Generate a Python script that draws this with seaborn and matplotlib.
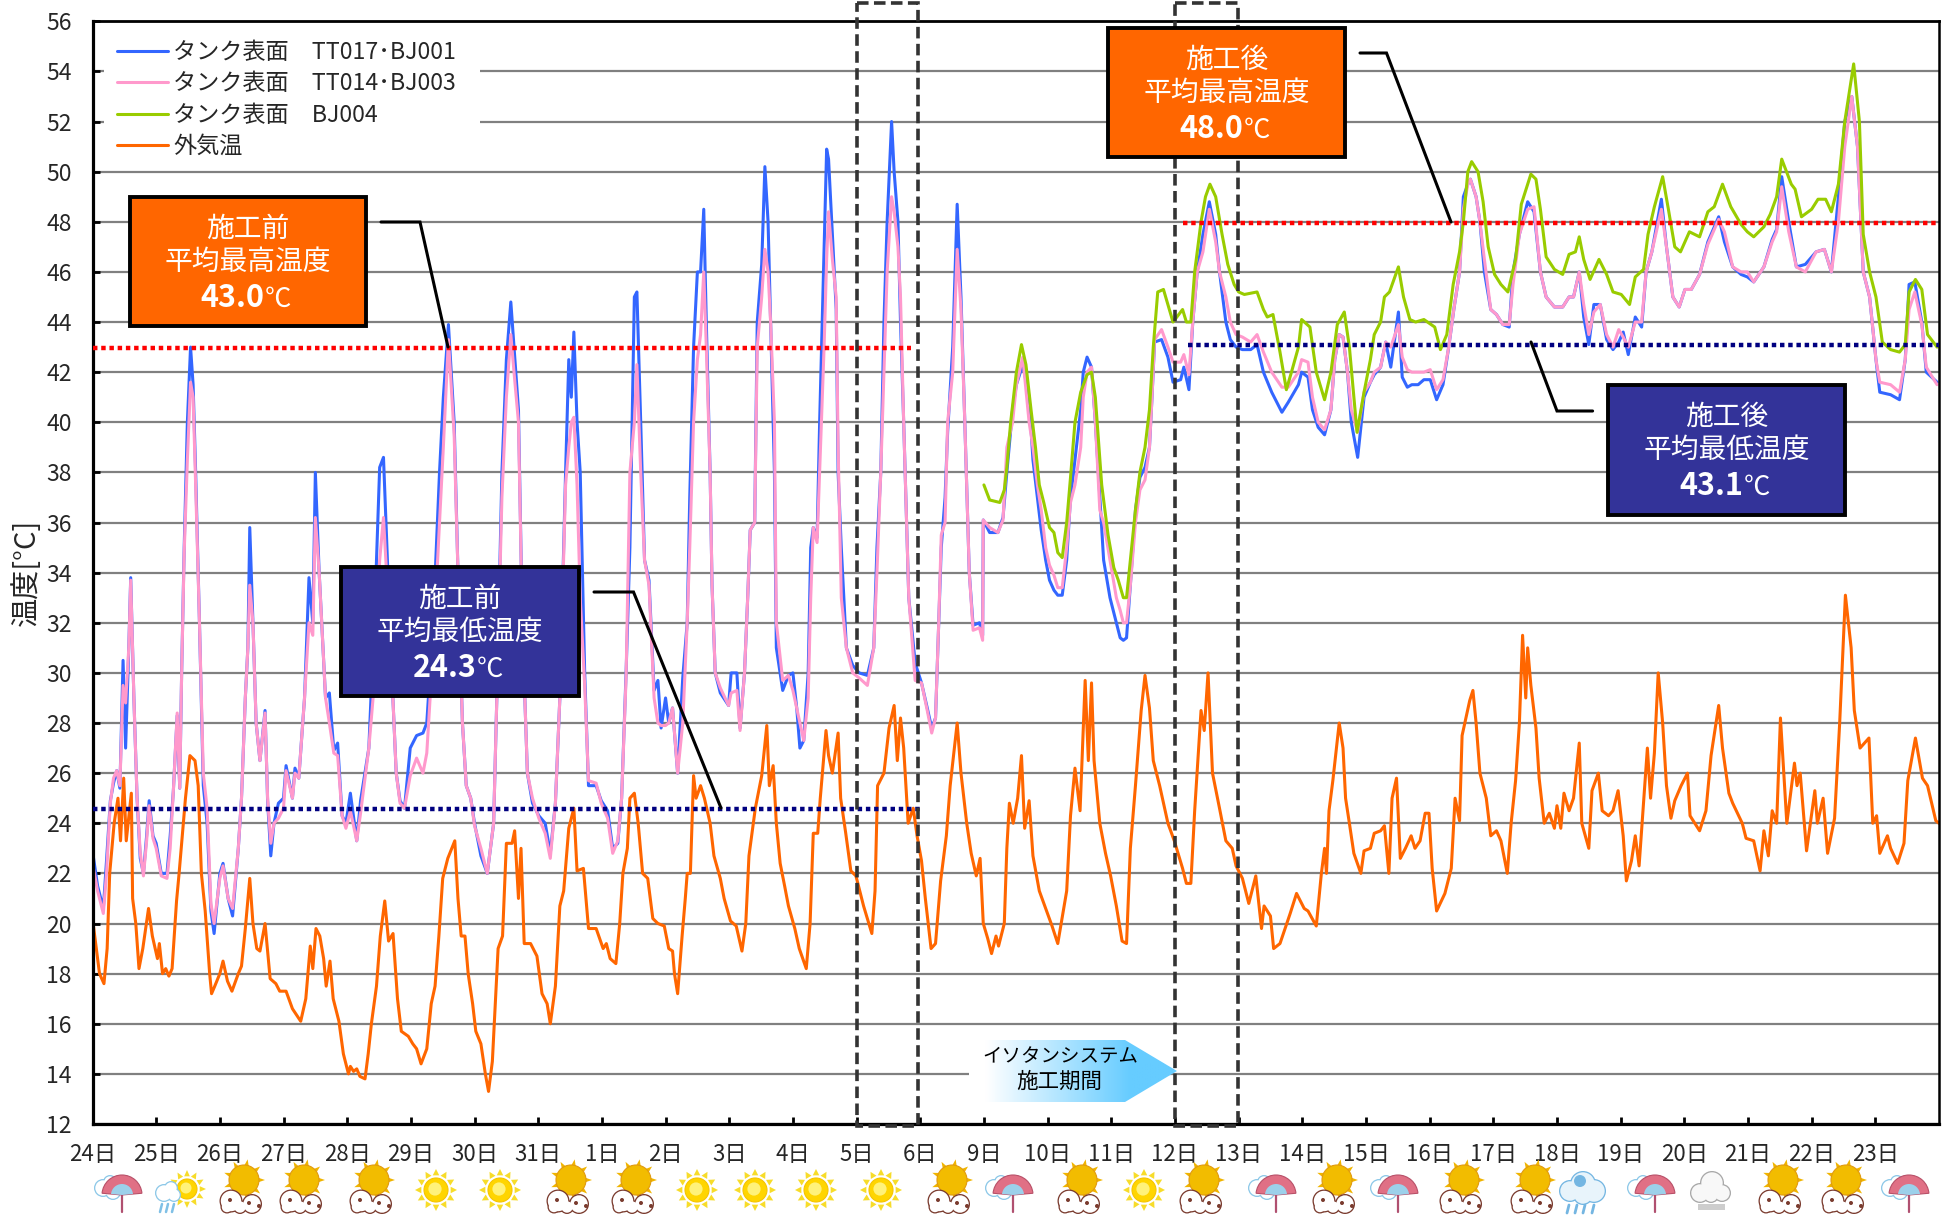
import numpy as np
import pandas as pd
import seaborn as sns
import matplotlib
matplotlib.use("Agg")
import matplotlib.pyplot as plt
from matplotlib.colors import LinearSegmentedColormap
from matplotlib.patches import Circle, Polygon, Rectangle, Wedge

# --- data (x = days since the 24th) ---
day_names = list(range(24, 32)) + list(range(1, 7)) + list(range(9, 24))
y_ticks = list(range(12, 58, 2))

tank_t = [0, .08, .17, .22, .28, .33, .38, .43, .48, .52,
          .57, .60, .65, .70, .75, .80, .85, .89, .95, 1.0,
          1.08, 1.17, 1.22, 1.27, 1.33, 1.37, 1.40, 1.44, 1.49, 1.54,
          1.58, 1.62, 1.68, 1.74, 1.80, 1.86, 1.91, 2.0, 2.05, 2.13,
          2.2, 2.29, 2.34, 2.4, 2.44, 2.47, 2.52, 2.57, 2.63, 2.71,
          2.75, 2.80, 2.85, 2.92, 3.0, 3.04, 3.14, 3.18, 3.24, 3.33,
          3.40, 3.46, 3.50, 3.56, 3.66, 3.72, 3.79, 3.85, 3.92, 3.98,
          4.05, 4.15, 4.21, 4.34, 4.44, 4.51, 4.57, 4.64, 4.70, 4.77,
          4.83, 4.90, 4.99, 5.09, 5.19, 5.25, 5.35, 5.45, 5.51, 5.59,
          5.68, 5.74, 5.81, 5.87, 5.94, 6.0, 6.10, 6.20, 6.30, 6.36,
          6.43, 6.50, 6.57, 6.62, 6.69, 6.75, 6.83, 6.91, 7.01, 7.11,
          7.19, 7.27, 7.34, 7.43, 7.48, 7.52, 7.56, 7.61, 7.66, 7.73,
          7.79, 7.91, 7.99, 8.09, 8.17, 8.25, 8.31, 8.38, 8.44, 8.51,
          8.55, 8.61, 8.67, 8.74, 8.82, 8.88, 8.93, 9.0, 9.05, 9.11,
          9.19, 9.27, 9.34, 9.38, 9.44, 9.50, 9.55, 9.60, 9.64, 9.70,
          9.73, 9.78, 9.86, 9.99, 10.03, 10.12, 10.17, 10.24, 10.29, 10.33,
          10.40, 10.44, 10.51, 10.56, 10.61, 10.65, 10.71, 10.74, 10.84, 10.93,
          11.0, 11.06, 11.11, 11.17, 11.24, 11.28, 11.32, 11.38, 11.42, 11.49,
          11.53, 11.56, 11.62, 11.68, 11.71, 11.76, 11.84, 11.94, 12.04, 12.17,
          12.27, 12.32, 12.38, 12.43, 12.48, 12.55, 12.59, 12.65, 12.69, 12.74,
          12.82, 12.92, 13.02, 13.11, 13.18, 13.24, 13.29, 13.33, 13.39, 13.43,
          13.51, 13.58, 13.64, 13.70, 13.77, 13.83, 13.93, 13.98, 13.99, 14.09,
          14.22, 14.30, 14.36, 14.45, 14.51, 14.61, 14.71, 14.77, 14.84, 14.90,
          14.97, 15.03, 15.10, 15.16, 15.23, 15.30, 15.36, 15.43, 15.52, 15.56,
          15.62, 15.69, 15.75, 15.82, 15.88, 15.98, 16.08, 16.14, 16.19, 16.24,
          16.30, 16.38, 16.45, 16.53, 16.60, 16.64, 16.68, 16.79, 16.89, 16.97,
          17.09, 17.14, 17.22, 17.28, 17.35, 17.44, 17.54, 17.64, 17.70, 17.80,
          17.87, 17.96, 18.06, 18.19, 18.29, 18.39, 18.52, 18.68, 18.78, 18.94,
          18.99, 19.09, 19.16, 19.25, 19.35, 19.45, 19.51, 19.58, 19.64, 19.71,
          19.77, 19.87, 19.97, 20.07, 20.13, 20.23, 20.31, 20.39, 20.51, 20.57,
          20.65, 20.72, 20.82, 20.91, 21.01, 21.11, 21.21, 21.30, 21.38, 21.47,
          21.53, 21.60, 21.64, 21.73, 21.79, 21.86, 21.96, 22.05, 22.15, 22.25,
          22.31, 22.41, 22.54, 22.64, 22.74, 22.83, 22.96, 23.09, 23.19, 23.26,
          23.35, 23.42, 23.50, 23.58, 23.68, 23.78, 23.88, 23.97, 24.04, 24.12,
          24.23, 24.33, 24.40, 24.49, 24.64, 24.72, 24.82, 24.92, 25.01, 25.11,
          25.24, 25.37, 25.54, 25.63, 25.76, 25.89, 25.99, 26.09, 26.25, 26.38,
          26.45, 26.53, 26.64, 26.76, 26.90, 27.07, 27.20, 27.31, 27.42, 27.52,
          27.63, 27.72, 27.81, 27.91, 28.01, 28.07, 28.24, 28.38, 28.47, 28.53,
          28.62, 28.73, 28.80, 28.97]
tank_a = [22.9, 21.5, 20.6, 22.5, 24.9, 25.6, 26.1, 25.4, 30.5, 27.0,
          31, 33.8, 29, 25, 22.6, 22, 23.5, 24.9, 23.5, 23.2,
          22, 22, 23.5, 25.3, 28.3, 25.4, 30, 35, 40, 43,
          41.5, 38, 32, 25.5, 24, 20.5, 19.6, 22, 22.4, 21,
          20.3, 23, 25, 29, 31, 35.8, 32, 28, 26.5, 28.5,
          24.9, 22.7, 24, 24.8, 25, 26.3, 25, 26.2, 25.8, 29,
          33.8, 32, 38, 34, 29, 29.2, 26.9, 27.2, 24.3, 24,
          25.2, 23.3, 24.9, 27, 33, 38.2, 38.6, 34, 30, 26,
          24.9, 24.6, 27, 27.5, 27.6, 28, 32, 38, 41, 43.9,
          40, 34, 28, 25.5, 25, 24, 22.7, 22, 24, 30,
          38, 42.5, 44.8, 43, 40.5, 32, 26, 24.8, 24.3, 24,
          22.8, 24.8, 29, 38, 42.5, 41, 43.6, 40, 38, 30,
          25.5, 25.5, 24.9, 24.5, 23, 23.2, 25, 30, 35, 45,
          45.2, 40, 34.5, 33.7, 29.3, 29.7, 27.8, 29, 28, 28.6,
          26, 29.8, 32, 37, 43, 46, 46, 48.5, 44, 38,
          33.5, 30, 29.2, 28.7, 30, 30, 27.8, 30, 33, 35.7,
          36, 44, 46.3, 50.2, 48, 44, 38, 31, 29.3, 29.9,
          30, 28.6, 27, 27.3, 30, 35, 35.8, 35.4, 40, 47,
          50.9, 50.5, 47.5, 44.5, 38, 35, 31, 30.3, 30, 29.9,
          31, 35, 38, 44, 48, 52, 50, 48, 44, 40,
          33, 30.4, 29.6, 28.6, 27.8, 28.2, 32, 35, 37, 39.6,
          43, 48.7, 45, 40, 34, 31.9, 32, 31.5, 36.1, 35.6,
          35.6, 36.2, 38, 40.5, 41.5, 42.3, 41, 38.5, 37, 35.7,
          34.5, 33.7, 33.3, 33.1, 33.1, 34.5, 37, 38.5, 40.5, 42,
          42.6, 42.2, 40, 37, 34.5, 33, 32, 31.4, 31.3, 31.4,
          33.5, 36.5, 37.8, 38.2, 39, 41, 43.2, 43.3, 42.6, 41.6,
          41.7, 42.2, 41.3, 44, 46, 47.5, 48.8, 47.5, 46, 44,
          43.3, 43, 42.9, 42.9, 43.1, 42, 41.2, 40.4, 40.8, 41.5,
          42, 41.8, 40.5, 39.8, 39.5, 40.5, 42.5, 43.5, 43.4, 42,
          40, 38.6, 41, 41.6, 41.9, 42.2, 43.2, 42.2, 44.4, 41.8,
          41.4, 41.5, 41.5, 41.7, 41.7, 40.9, 41.5, 43, 44.5, 46,
          49, 49.5, 49.7, 49, 48, 46, 44.5, 44.3, 43.9, 43.8,
          46, 47.5, 48.8, 48.4, 46, 45, 44.6, 44.6, 45, 45,
          46, 44.2, 43.1, 44.7, 44.7, 43.3, 42.9, 43.2, 43.6, 42.7,
          44.2, 43.8, 46, 46.8, 48.9, 47, 45, 44.6, 45.3, 45.3,
          45.9, 47.2, 48.2, 47.2, 46.2, 45.9, 45.8, 45.6, 46.2, 47.3,
          47.7, 49.8, 48, 46.2, 46.3, 46.8, 46.9, 46, 49, 52,
          53, 51, 46, 45, 42.5, 41.2, 41.1, 40.9, 42.5, 45.5,
          45.6, 44, 42, 41.6]
tank_b = [22.4, 21.3, 20.4, 22, 24.8, 25.8, 26.1, 25.5, 29.5, 28.8,
          31, 33.7, 29, 25, 22.8, 21.9, 23.3, 24.7, 23.4, 23.0,
          21.9, 21.8, 23, 25.3, 28.4, 25.4, 30, 34.8, 38.5, 41.6,
          41, 37.5, 32, 26, 24.6, 20.8, 20, 21.8, 22.3, 21,
          20.6, 23, 25, 29, 31, 33.5, 32, 28, 26.5, 28.4,
          25, 23.2, 24, 24.2, 24.6, 26.1, 25, 26, 25.8, 29,
          32, 31.5, 36.2, 34, 29, 28, 26.8, 26.7, 24.3, 23.8,
          24.5, 23.3, 24.4, 27, 30, 34.5, 36.2, 33, 30, 26,
          24.8, 24.6, 25.9, 26.6, 26, 26.8, 31, 36, 39, 43.3,
          39.5, 34, 28, 25.5, 25, 23.9, 23, 22, 24, 30,
          37, 41, 43.5, 42, 40, 32, 26, 25, 24.2, 23.6,
          22.6, 24.8, 29, 37.5, 39, 40, 40.2, 37.5, 33, 29.5,
          25.7, 25.6, 24.8, 24.2, 22.8, 23.3, 25, 29.8, 38, 40,
          42.3, 38, 34.5, 33.5, 29, 28, 27.9, 27.9, 28, 28.6,
          26, 28, 32, 35, 40, 42.5, 43.5, 46, 43, 38,
          33.5, 30, 29.4, 28.7, 29.2, 29.3, 27.7, 30, 33, 35.7,
          36, 43, 45, 46.9, 46, 44, 40, 32, 29.7, 29.9,
          29.3, 28.6, 28, 27.3, 29, 33, 35.8, 35.2, 38, 43,
          46.5, 48.4, 46.5, 45, 39, 33, 31, 30, 29.8, 29.5,
          31, 34, 38, 42, 46, 49, 48.4, 47, 45, 40,
          33, 29.7, 29.6, 28.5, 27.6, 28.2, 32, 35.5, 36, 40,
          42, 46.9, 44.5, 40, 34, 31.7, 31.8, 31.3, 36.1, 35.8,
          35.6, 36.1, 39, 40, 41.5, 42.6, 40, 39, 37.5, 36.5,
          35, 34.3, 33.9, 33.4, 33.4, 35, 36.8, 37.5, 39, 41,
          42, 42.2, 40, 36.5, 36, 34.5, 33, 32.5, 32, 32,
          33.5, 36, 37.3, 37.7, 39, 41, 43.3, 43.7, 43, 42.4,
          42.4, 42.7, 41.9, 44, 46, 46.8, 48.5, 47.2, 46, 45,
          44, 43.5, 43.4, 43.2, 43.5, 42.8, 42, 41.4, 41.4, 42,
          42.5, 42.4, 41, 40, 39.7, 40.5, 42.5, 43.5, 43.4, 42,
          40.5, 39.6, 41.2, 41.6, 42, 42.2, 43.2, 43, 43.9, 42.6,
          42.1, 42, 42, 42, 42.1, 41.3, 41.7, 43, 44.5, 46,
          48.5, 49.5, 49.7, 49, 48, 46.5, 44.5, 44.3, 43.9, 43.9,
          45.5, 47.5, 48.5, 48.6, 46, 45, 44.6, 44.6, 45, 45,
          46, 44.7, 43.5, 44.4, 44.7, 43.5, 43, 43.7, 43.4, 43,
          44, 44, 46, 46.8, 48.5, 47, 45, 44.6, 45.3, 45.3,
          45.9, 47.1, 48.1, 47.6, 46.2, 46, 46, 45.6, 46.2, 47.2,
          47.6, 49.4, 47.6, 46.2, 46, 46.8, 46.9, 46, 48, 51,
          53, 51, 46, 45, 42.5, 41.6, 41.5, 41.2, 42.5, 44.5,
          45.2, 43.9, 42.2, 41.5]

green_t = [14.0, 14.09, 14.25, 14.32, 14.36, 14.42, 14.51, 14.59, 14.66, 14.74,
           14.81, 14.87, 14.94, 15.03, 15.10, 15.16, 15.23, 15.30, 15.36, 15.43,
           15.52, 15.62, 15.69, 15.75, 15.85, 15.95, 16.04, 16.11, 16.19, 16.24,
           16.30, 16.38, 16.45, 16.53, 16.60, 16.66, 16.73, 16.82, 16.89, 16.97,
           17.12, 17.18, 17.25, 17.31, 17.41, 17.48, 17.55, 17.64, 17.74, 17.83,
           17.93, 18.0, 18.09, 18.29, 18.39, 18.45, 18.54, 18.65, 18.75, 18.83,
           18.94, 18.99, 19.12, 19.22, 19.35, 19.45, 19.55, 19.66, 19.74, 19.81,
           19.86, 19.97, 20.07, 20.13, 20.23, 20.29, 20.37, 20.51, 20.59, 20.69,
           20.78, 20.91, 21.08, 21.17, 21.27, 21.37, 21.47, 21.53, 21.60, 21.66,
           21.76, 21.84, 21.92, 22.02, 22.12, 22.23, 22.35, 22.44, 22.59, 22.67,
           22.74, 22.83, 22.96, 23.09, 23.19, 23.29, 23.35, 23.42, 23.52, 23.66,
           23.78, 23.88, 24.01, 24.14, 24.23, 24.36, 24.43, 24.53, 24.66, 24.75,
           24.85, 24.94, 25.08, 25.24, 25.37, 25.47, 25.60, 25.73, 25.89, 25.99,
           26.09, 26.25, 26.35, 26.45, 26.53, 26.68, 26.74, 26.84, 27.00, 27.10,
           27.22, 27.31, 27.42, 27.52, 27.66, 27.75, 27.81, 27.91, 28.01, 28.11,
           28.24, 28.38, 28.47, 28.53, 28.63, 28.73, 28.82, 28.97]
green_v = [37.5, 36.9, 36.8, 37.3, 38.2, 40, 42, 43.1, 42.3, 40.5,
           39, 37.5, 36.8, 35.8, 35.6, 34.8, 34.6, 36, 37.8, 40,
           41.2, 41.9, 42, 41, 37.5, 35.5, 34.2, 33.7, 33, 33,
           34.5, 36.5, 38, 39, 40.5, 43, 45.2, 45.3, 44.7, 44,
           44.5, 44, 44, 46, 48, 49, 49.5, 49, 47.5, 46.3,
           45.5, 45.2, 45.1, 45.2, 44.5, 44.2, 44.3, 42.8, 41.3, 42,
           43, 44.1, 43.8, 42, 40.9, 42, 43.9, 44.4, 43, 41,
           39.6, 41.2, 42.5, 43.5, 44, 45, 45.2, 46.2, 45, 44.1,
           44, 44.1, 43.8, 42.9, 43.5, 45.5, 46.8, 48, 50, 50.4,
           50, 48.8, 47, 45.9, 45.5, 45.2, 46.5, 48.7, 49.9, 49.7,
           48.5, 46.6, 46.1, 45.9, 46.7, 46.8, 47.4, 46.5, 45.7, 46.5,
           45.9, 45.2, 45.1, 44.7, 45.8, 46.1, 47.5, 48.6, 49.8, 48.5,
           47, 46.8, 47.6, 47.4, 48.4, 48.6, 49.5, 48.6, 47.9, 47.6,
           47.4, 47.8, 48.3, 49, 50.5, 49.5, 49.3, 48.2, 48.5, 48.9,
           48.9, 48.4, 49.5, 52, 54.3, 52, 47.5, 46, 45, 43.2,
           42.9, 42.8, 43.1, 45.2, 45.7, 45.3, 43.5, 43]

air_t = [0, .06, .11, .18, .23, .27, .34, .40, .44, .49,
         .53, .61, .63, .68, .73, .79, .88, .94, 1.02, 1.05,
         1.10, 1.15, 1.20, 1.25, 1.32, 1.36, 1.41, 1.46, 1.53, 1.61,
         1.66, 1.71, 1.77, 1.84, 1.87, 1.92, 2.0, 2.05, 2.12, 2.19,
         2.29, 2.34, 2.40, 2.47, 2.52, 2.58, 2.63, 2.71, 2.79, 2.88,
         2.94, 3.04, 3.14, 3.27, 3.35, 3.42, 3.46, 3.51, 3.57, 3.63,
         3.67, 3.73, 3.78, 3.87, 3.94, 4.02, 4.05, 4.10, 4.15, 4.20,
         4.28, 4.33, 4.38, 4.46, 4.52, 4.59, 4.65, 4.72, 4.79, 4.85,
         4.96, 5.03, 5.09, 5.16, 5.25, 5.32, 5.38, 5.44, 5.50, 5.58,
         5.69, 5.74, 5.79, 5.85, 5.90, 5.97, 6.02, 6.10, 6.17, 6.22,
         6.28, 6.33, 6.37, 6.44, 6.50, 6.59, 6.63, 6.69, 6.73, 6.78,
         6.88, 6.98, 7.06, 7.14, 7.19, 7.27, 7.34, 7.40, 7.48, 7.56,
         7.61, 7.71, 7.79, 7.91, 8.02, 8.07, 8.13, 8.22, 8.28, 8.33,
         8.40, 8.44, 8.51, 8.57, 8.64, 8.72, 8.80, 8.88, 8.98, 9.05,
         9.11, 9.14, 9.19, 9.26, 9.31, 9.34, 9.39, 9.44, 9.48, 9.55,
         9.61, 9.70, 9.76, 9.86, 9.92, 10.02, 10.11, 10.20, 10.26, 10.31,
         10.41, 10.51, 10.59, 10.63, 10.69, 10.74, 10.80, 10.87, 10.93, 11.03,
         11.10, 11.21, 11.27, 11.32, 11.39, 11.43, 11.52, 11.56, 11.62, 11.71,
         11.75, 11.83, 11.91, 11.99, 12.11, 12.24, 12.29, 12.33, 12.43, 12.51,
         12.59, 12.64, 12.69, 12.74, 12.81, 12.89, 12.95, 13.02, 13.08, 13.17,
         13.24, 13.32, 13.41, 13.47, 13.58, 13.64, 13.73, 13.80, 13.88, 13.94,
         13.99, 14.06, 14.12, 14.19, 14.23, 14.32, 14.36, 14.40, 14.46, 14.53,
         14.59, 14.64, 14.71, 14.77, 14.87, 14.97, 15.07, 15.16, 15.30, 15.36,
         15.43, 15.51, 15.59, 15.64, 15.69, 15.73, 15.82, 15.91, 15.99, 16.08,
         16.17, 16.24, 16.30, 16.38, 16.47, 16.53, 16.60, 16.66, 16.76, 16.89,
         16.99, 17.12, 17.18, 17.25, 17.31, 17.41, 17.46, 17.52, 17.59, 17.70,
         17.80, 17.90, 17.96, 18.06, 18.16, 18.27, 18.36, 18.40, 18.50, 18.55,
         18.65, 18.81, 18.91, 19.03, 19.09, 19.22, 19.30, 19.35, 19.38, 19.42,
         19.48, 19.58, 19.64, 19.68, 19.74, 19.81, 19.92, 19.97, 20.07, 20.13,
         20.23, 20.29, 20.36, 20.41, 20.48, 20.54, 20.62, 20.71, 20.77, 20.85,
         20.93, 20.99, 21.04, 21.11, 21.24, 21.34, 21.40, 21.47, 21.51, 21.63,
         21.68, 21.73, 21.79, 21.89, 21.96, 22.05, 22.12, 22.22, 22.28, 22.35,
         22.41, 22.46, 22.51, 22.54, 22.59, 22.67, 22.72, 22.80, 22.88, 22.96,
         23.0, 23.06, 23.11, 23.19, 23.26, 23.35, 23.39, 23.50, 23.55, 23.65,
         23.71, 23.81, 23.88, 23.96, 24.04, 24.09, 24.17, 24.23, 24.29, 24.36,
         24.42, 24.47, 24.53, 24.59, 24.66, 24.72, 24.79, 24.85, 24.95, 25.05,
         25.09, 25.24, 25.34, 25.42, 25.54, 25.60, 25.70, 25.76, 25.91, 25.97,
         26.09, 26.19, 26.25, 26.32, 26.38, 26.45, 26.51, 26.61, 26.73, 26.77,
         26.82, 26.92, 27.05, 27.09, 27.18, 27.25, 27.36, 27.44, 27.53, 27.62,
         27.67, 27.76, 27.90, 27.96, 28.02, 28.07, 28.19, 28.24, 28.35, 28.45,
         28.51, 28.63, 28.74, 28.82, 28.95, 29.0]
air_v = [20.2, 19, 18, 17.6, 19, 22, 24, 25, 23.3, 25.8,
         23.3, 25.2, 21, 20, 18.2, 19, 20.6, 19.5, 18.6, 19.2,
         18, 18.2, 17.9, 18.2, 20.9, 22, 23.5, 25, 26.7, 26.5,
         25.5, 22, 20.5, 18, 17.2, 17.5, 18, 18.5, 17.7, 17.3,
         18, 18.3, 19.8, 21.8, 20, 19, 18.9, 20, 17.8, 17.6,
         17.3, 17.3, 16.6, 16.1, 17, 19.1, 18.2, 19.8, 19.5, 18.6,
         17.5, 18.5, 17, 16.1, 14.8, 14, 14.3, 14.1, 14.2, 13.9,
         13.8, 14.8, 16, 17.5, 19.5, 20.9, 19.3, 19.6, 17, 15.7,
         15.5, 15.2, 15, 14.4, 15, 16.8, 17.5, 19.5, 21.8, 22.6,
         23.3, 21, 19.5, 19.5, 18, 16.8, 15.7, 15.2, 14, 13.3,
         14.5, 17, 19, 19.5, 23.2, 23.2, 23.7, 21, 23, 19.2,
         19.2, 18.7, 17.2, 16.8, 16, 17.5, 20.7, 21.3, 23.8, 24.6,
         22.1, 22.2, 19.8, 19.8, 19, 19.2, 18.6, 18.4, 20, 22,
         23, 25, 25.2, 24, 22, 21.8, 20.2, 20, 19.9, 19,
         18.9, 18, 17.2, 19.5, 21, 22, 22, 25.9, 25, 25.5,
         25, 24, 22.7, 21.8, 21, 20.1, 19.9, 18.9, 20, 22.7,
         24.6, 25.9, 27.9, 25.5, 26.3, 24, 22.4, 21.5, 20.7, 19.8,
         19, 18.2, 20, 23.6, 23.6, 25, 27.7, 26.7, 26, 27.6,
         25, 23.6, 22.1, 21.9, 20.7, 19.6, 21.3, 25.5, 26, 27.8,
         28.7, 26.5, 28.2, 27, 24, 24.6, 23.5, 22.5, 21, 19,
         19.2, 21.7, 23.5, 25.5, 28, 26, 24, 22.8, 21.9, 22.6,
         20, 19.4, 18.8, 19.5, 19.1, 20, 23, 24.8, 24, 25,
         26.7, 23.8, 24.9, 22.7, 21.3, 20.6, 19.9, 19.2, 21.3, 24.3,
         26.2, 24.5, 29.7, 26.5, 29.6, 26.5, 24, 22.8, 21.9, 20.7,
         19.3, 19.2, 23, 25.5, 28.5, 29.9, 28.6, 26.5, 25.5, 24,
         23.3, 22.2, 21.6, 21.6, 24.5, 28.5, 27.7, 30, 26, 24.6,
         23.3, 23, 22.3, 21.8, 20.8, 21.9, 19.8, 20.7, 20.3, 19,
         19.2, 20.4, 21.2, 20.6, 20.5, 19.9, 22, 23, 22, 24.5,
         25.7, 28, 27, 25, 24, 22.8, 22, 22.9, 23, 23.6,
         23.7, 23.9, 22, 25, 25.8, 22.6, 23, 23.5, 23, 23.3,
         24.4, 24.4, 22.2, 20.5, 21.2, 22.2, 25, 24.1, 27.5, 28.9,
         29.3, 28, 26, 25, 23.5, 23.7, 23.3, 22, 24, 25.7,
         28, 31.5, 29, 31, 29.5, 27.8, 25.8, 24, 24.4, 23.8,
         24.7, 23.8, 25.2, 24.5, 25, 27.2, 24, 23, 25.3, 26,
         24.5, 24.3, 24.5, 25.3, 23.5, 21.7, 22.5, 23.5, 22.3, 24.8,
         27, 25, 26.8, 30, 28, 25.5, 24.2, 24.9, 25.5, 26,
         24.3, 23.7, 24.5, 26.7, 28.7, 27, 25.2, 24.8, 24, 23.4,
         23.3, 22.1, 23.7, 22.7, 24.5, 24, 28.2, 24, 26.4, 25.5,
         26, 22.9, 25.3, 24, 25, 22.8, 24.2, 28, 33.1, 31,
         28.5, 27, 27.4, 24, 24.3, 22.8, 23.5, 23, 22.4, 23.2,
         25.7, 27.4, 25.8, 25.5, 24.1, 24]

# average lines: value, start day, end day
avg_lines = [(42.96, 0, 12.85, "#FF0000"), (24.57, 0, 12.99, "#000080"),
             (47.95, 17.12, 29, "#FF0000"), (43.07, 17.2, 29, "#000080")]

# weather icons along the bottom, one per day
weather = ["umbrella", "rain_sun", "cloud_sun", "cloud_sun", "cloud_sun", "sun", "sun", "cloud_sun",
           "cloud_sun", "sun", "sun", "sun", "sun", "cloud_sun", "umbrella", "cloud_sun", "sun",
           "cloud_sun", "umbrella", "cloud_sun", "umbrella", "cloud_sun", "cloud_sun", "rain",
           "umbrella", "gray", "cloud_sun", "cloud_sun", "umbrella"]
weather_px = [118, 177, 241, 301, 371, 436, 500, 568, 633, 697, 755, 816, 881, 949, 1009,
              1079, 1144, 1201, 1272, 1334, 1394, 1461, 1532, 1583, 1651, 1711, 1780, 1843, 1905]

W, H = 1942, 1220
JP = ["Noto Sans CJK JP", "DejaVu Sans"]

sns.set_theme(style="ticks")
plt.rcParams["font.family"] = JP
plt.rcParams["axes.unicode_minus"] = False

fig = plt.figure(figsize=(W / 100, H / 100), dpi=100, facecolor="white")
ax = fig.add_axes([92.5 / W, 1 - 1124 / H, (1939 - 92.5) / W, (1124 - 21.3) / H])

series = [("タンク表面　TT017･BJ001", tank_t, tank_a, "#3366FF"),
          ("タンク表面　TT014･BJ003", tank_t, tank_b, "#FF99CC"),
          ("タンク表面　BJ004", green_t, green_v, "#99CC00"),
          ("外気温", air_t, air_v, "#FF6600")]
for label, t, v, color in series:
    df = pd.DataFrame({"day": t, "temp": v})
    sns.lineplot(data=df, x="day", y="temp", ax=ax, color=color, linewidth=2.2,
                 estimator=None, sort=False, label=label, zorder=2)

for val, x0, x1, color in avg_lines:
    ax.plot([x0, x1], [val, val], color=color, lw=3.2, ls=(0, (1, 0.85)), zorder=3)

ax.set_xlim(0, 29)
ax.set_ylim(12, 56)
ax.set_yticks(y_ticks)
ax.set_xticks(range(len(day_names)))
ax.set_xticklabels([f"{d}日" for d in day_names], fontsize=16)
ax.tick_params(axis="y", direction="in", length=5, width=2, pad=15, labelsize=16.5, color="black")
ax.tick_params(axis="x", direction="in", length=5, width=2, pad=14, color="black")
ax.set_xlabel("")
ax.set_ylabel("温度[°C]", fontsize=21, labelpad=3)
ax.set_axisbelow(True)
ax.grid(axis="y", color="#808080", lw=1.6)
ax.grid(axis="x", visible=False)
for side, lw in [("left", 2.3), ("bottom", 2.3), ("top", 2), ("right", 1.8)]:
    ax.spines[side].set_visible(True)
    ax.spines[side].set_linewidth(lw)
    ax.spines[side].set_color("black")

# white block behind the legend interrupts the gridlines
ax.add_patch(Rectangle((104 / W, 1 - 165 / H), 376 / W, 135 / H, transform=fig.transFigure,
                       fc="white", ec="none", zorder=1))
handles, labels = ax.get_legend_handles_labels()
leg = ax.legend(handles, labels, loc="upper left", bbox_to_anchor=(117 / W, 1 - 41 / H),
                bbox_transform=fig.transFigure, fontsize=16.7, frameon=False, handlelength=2.2,
                handletextpad=0.22, labelspacing=0.36, borderpad=0, borderaxespad=0)
leg.set_zorder(4)

# overlay in pixel coordinates for the callouts and icons
ov = fig.add_axes([0, 0, 1, 1], zorder=5)
ov.set_xlim(0, W)
ov.set_ylim(H, 0)
ov.axis("off")

for x0, x1 in [(856.5, 918), (1175, 1238)]:
    ov.add_patch(Rectangle((x0, 3), x1 - x0, 1123, fill=False, ec="#333333", lw=2.6,
                           ls=(0, (3.2, 1.5)), zorder=2))

leaders = [[(381, 222), (420, 222), (448, 347)],
           [(594, 592), (633.5, 592), (721, 808)],
           [(1360, 53), (1386.5, 53), (1451, 222)],
           [(1531, 342), (1557, 411), (1592.6, 411)]]
for pts in leaders:
    ov.plot(*zip(*pts), color="black", lw=2.2, zorder=3, solid_joinstyle="miter")


def callout(x0, y0, x1, y1, fill, line1, line2, value):
    ov.add_patch(Rectangle((x0, y0), x1 - x0, y1 - y0, fc=fill, ec="black", lw=2.8, zorder=4))
    cx = (x0 + x1) / 2
    ov.text(cx, y0 + 32, line1, color="white", fontsize=20, ha="center", va="center", zorder=5)
    ov.text(cx, y0 + 65, line2, color="white", fontsize=20, ha="center", va="center", zorder=5)
    ov.text(cx + 17, y0 + 101, value, color="white", fontsize=22, fontweight="bold",
            ha="right", va="center", zorder=5)
    ov.text(cx + 17, y0 + 102, "℃", color="white", fontsize=19, ha="left", va="center", zorder=5)


callout(129.5, 197, 366, 326, "#FF6600", "施工前", "平均最高温度", "43.0")
callout(341, 567, 579, 696, "#333399", "施工前", "平均最低温度", "24.3")
callout(1108, 28, 1345, 157, "#FF6600", "施工後", "平均最高温度", "48.0")
callout(1608, 385, 1845, 515, "#333399", "施工後", "平均最低温度", "43.1")

# gradient arrow for the construction period
arrow_cmap = LinearSegmentedColormap.from_list("arrow", [(0, "#FFFFFF"), (0.08, "#FFFFFF"),
                                                         (0.78, "#66CCFF"), (1, "#66CCFF")])
img = ov.imshow(np.linspace(0, 1, 256).reshape(1, -1), cmap=arrow_cmap, aspect="auto",
                extent=(969, 1177, 1102, 1040), zorder=2.5)
clip = Polygon([(969, 1040), (1125, 1040), (1177, 1071), (1125, 1102), (969, 1102)],
               transform=ov.transData, fc="none", ec="none")
ov.add_patch(clip)
img.set_clip_path(clip)
ov.set_xlim(0, W)
ov.set_ylim(H, 0)
ov.text(1060, 1057, "イソタンシステム", fontsize=14, ha="center", va="center", color="black", zorder=3)
ov.text(1059, 1082, "施工期間", fontsize=15.5, ha="center", va="center", color="black", zorder=3)


# --- weather icons, rough redraws of the small bitmaps ---
def rays(cx, cy, r0, r1, n, color, z=3):
    for a in np.linspace(0, 2 * np.pi, n, endpoint=False):
        tip = (cx + r1 * np.cos(a), cy + r1 * np.sin(a))
        s = 0.22
        p0 = (cx + r0 * np.cos(a - s), cy + r0 * np.sin(a - s))
        p1 = (cx + r0 * np.cos(a + s), cy + r0 * np.sin(a + s))
        ov.add_patch(Polygon([tip, p0, p1], fc=color, ec="none", zorder=z))


def sun(cx, cy, r=12):
    rays(cx, cy, r + 3, r + 9, 12, "#F7DC2A")
    ov.add_patch(Circle((cx, cy), r, fc="#FFD500", ec="#F5C400", lw=0.8, zorder=3))
    ov.add_patch(Circle((cx - 1, cy - 1), r * 0.55, fc="#FFF27A", ec="none", zorder=3.1))


def puffs(items, fc, ec, z=3.2):
    for x, y, r in items:
        ov.add_patch(Circle((x, y), r, fc=ec, ec="none", zorder=z))
    for x, y, r in items:
        ov.add_patch(Circle((x, y), max(r - 1.3, 0.5), fc=fc, ec="none", zorder=z + 0.01))


def cloud_sun(cx, cy):
    rays(cx + 3, cy - 12, 13, 21, 9, "#F0B400", z=2.8)
    ov.add_patch(Circle((cx + 3, cy - 12), 15, fc="#F2BC00", ec="#E09A10", lw=0.8, zorder=3))
    puffs([(cx - 10, cy + 9, 11.5), (cx + 11, cy + 12, 10), (cx - 1, cy + 15, 7),
           (cx - 14, cy + 15, 6.5)], "white", "#7A3B2E")
    for dx, dy in [(-11, 8), (8, 11), (18, 14)]:
        ov.add_patch(Circle((cx + dx, cy + dy), 2, fc="#7A3B2E", ec="none", zorder=3.3))


def umbrella(cx, cy):
    puffs([(cx - 15, cy - 3, 9), (cx - 8, cy - 9, 7), (cx - 5, cy + 1, 8)], "white", "#8CC8E8")
    ov.add_patch(Wedge((cx + 4, cy + 4), 20, 185, 355, fc="#E07085", ec="#B85068", lw=0.8, zorder=3.3))
    ov.add_patch(Wedge((cx + 4, cy + 4), 11, 185, 355, fc="#9CD0EA", ec="none", zorder=3.4))
    ov.plot([cx + 4, cx + 4], [cy + 4, cy + 21], color="#B05070", lw=1.6, zorder=3.3)


def rain_sun(cx, cy):
    sun(cx + 10, cy - 2, 10)
    puffs([(cx - 13, cy + 2, 9), (cx - 6, cy - 3, 7), (cx - 3, cy + 4, 7)], "white", "#8CC8E8")
    for dx in (-15, -9, -3):
        ov.plot([cx + dx, cx + dx - 2], [cy + 13, cy + 21], color="#7FC0E6", lw=1.8, zorder=3.3)


def rain(cx, cy):
    puffs([(cx - 13, cy + 1, 11), (cx + 11, cy + 1, 12), (cx, cy - 6, 13), (cx, cy + 5, 10)],
          "#E8F4FB", "#74B6E2")
    ov.add_patch(Circle((cx - 3, cy - 9), 6, fc="#74B6E2", ec="none", zorder=3.4))
    for dx in (-14, -6, 2, 11):
        ov.plot([cx + dx, cx + dx - 2], [cy + 15, cy + 23], color="#74B6E2", lw=2, zorder=3.3)


def gray_cloud(cx, cy):
    puffs([(cx - 11, cy + 3, 10), (cx + 11, cy + 3, 9), (cx + 1, cy - 7, 12), (cx, cy + 5, 8)],
          "#F8F8F8", "#A8A8A8")
    ov.add_patch(Rectangle((cx - 13, cy + 14), 27, 6, fc="#B8B8B8", ec="none", alpha=0.7, zorder=3.3))


for kind, x in zip(weather, weather_px):
    if kind == "sun":
        sun(x, 1190)
    elif kind == "cloud_sun":
        cloud_sun(x, 1192)
    elif kind == "umbrella":
        umbrella(x, 1191)
    elif kind == "rain_sun":
        rain_sun(x, 1191)
    elif kind == "rain":
        rain(x, 1190)
    else:
        gray_cloud(x, 1190)

fig.savefig("out.png", dpi=100)
